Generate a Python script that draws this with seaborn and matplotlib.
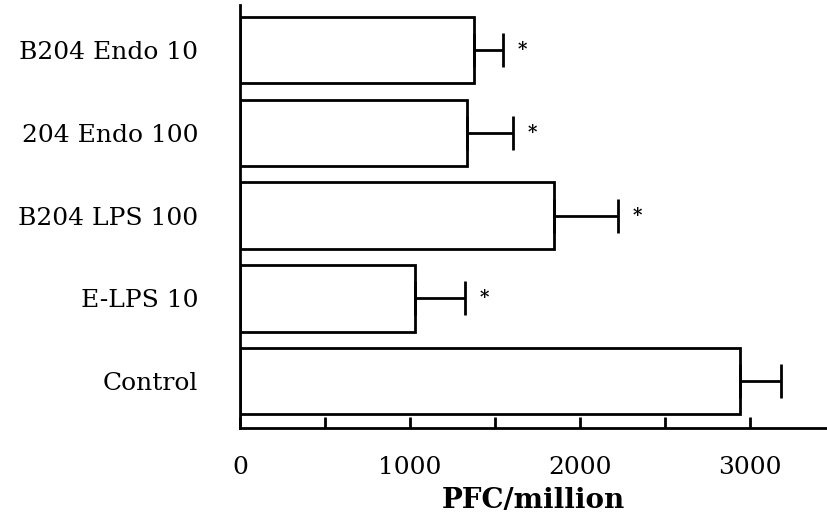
import numpy as np
import pandas as pd
import matplotlib
matplotlib.use("Agg")
import matplotlib.pyplot as plt
import seaborn as sns

categories = ["B204 Endo 10", "204 Endo 100", "B204 LPS 100", "E-LPS 10", "Control"]
means = [1376, 1333, 1847, 1030, 2941]
errors = [171, 273, 377, 294, 241]
significant = [True, True, True, True, False]
x_major = [0, 1000, 2000, 3000]
x_minor = [500, 1500, 2500]

sns.set_theme(style="ticks")
plt.rcParams["font.family"] = ["DejaVu Serif"]
plt.rcParams["text.color"] = "black"
plt.rcParams["axes.labelcolor"] = "black"
plt.rcParams["xtick.labelcolor"] = "black"
plt.rcParams["ytick.labelcolor"] = "black"

df = pd.DataFrame({"group": categories, "pfc": means})

fig = plt.figure(figsize=(8.27, 5.17), dpi=100)
ax = fig.add_axes([0.290, 0.172, 0.710, 0.818])

sns.barplot(data=df, x="pfc", y="group", orient="h", color="white",
            edgecolor="black", linewidth=2.0, width=0.8, errorbar=None,
            saturation=1, ax=ax)

ypos = np.arange(len(categories))
ax.errorbar(means, ypos, xerr=[np.zeros(len(errors)), errors], fmt="none",
            ecolor="black", elinewidth=2.0, capsize=12, capthick=2.0, zorder=3)

for i, (m, e, s) in enumerate(zip(means, errors, significant)):
    if s:
        ax.annotate("*", xy=(m + e, i), xytext=(14, 0), textcoords="offset points",
                    ha="center", va="center", fontsize=13, fontweight="bold",
                    color="black")

ax.set_xlim(0, 3453)
ax.set_ylim(len(categories) - 1 + 0.566, -0.54)

ax.set_xticks(x_major)
ax.set_xticks(x_minor, minor=True)
ax.set_xticklabels([str(v) for v in x_major])
ax.tick_params(axis="x", which="both", direction="in", length=8, width=2.0,
               color="black", pad=20, labelsize=18)
ax.tick_params(axis="y", length=0, pad=30, labelsize=18)

ax.set_xlabel("PFC/million", fontsize=20, fontweight="bold", labelpad=6)
ax.set_ylabel("")

for side in ["top", "right"]:
    ax.spines[side].set_visible(False)
for side in ["left", "bottom"]:
    ax.spines[side].set_linewidth(2.0)
    ax.spines[side].set_color("black")

fig.savefig("out.png", dpi=100)
